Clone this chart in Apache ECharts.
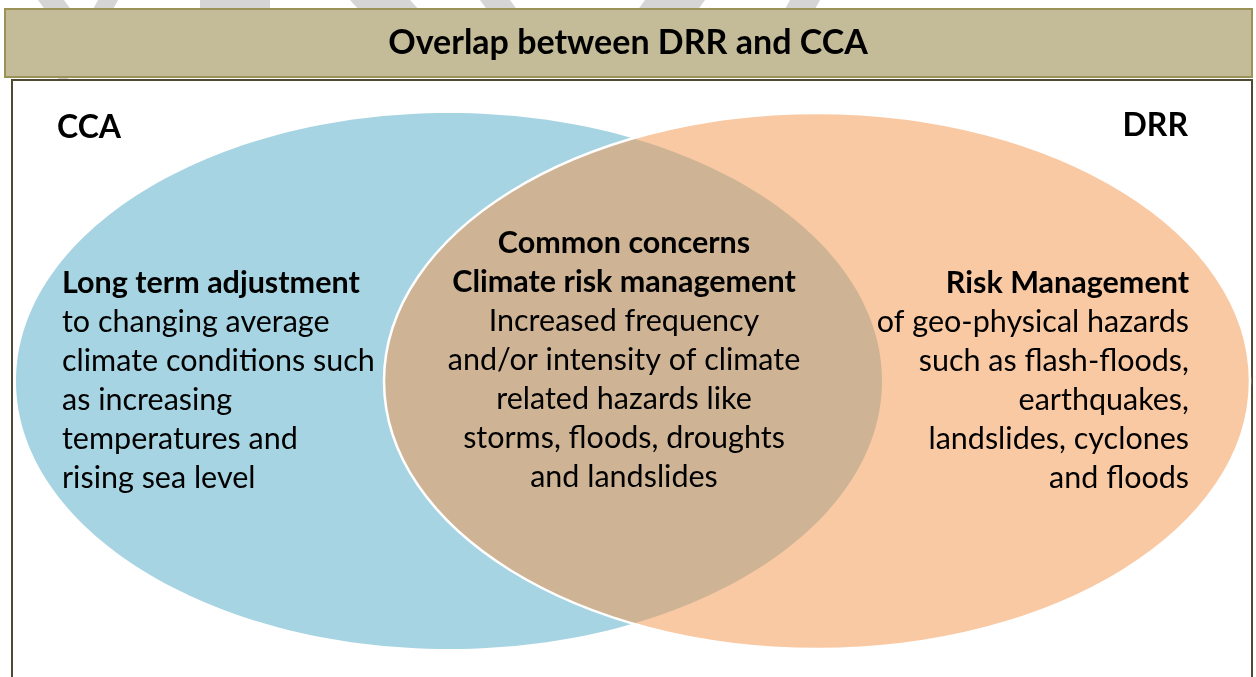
<!DOCTYPE html>
<html>
<head>
<meta charset="utf-8">
<script src="https://cdn.jsdelivr.net/npm/echarts@6/dist/echarts.min.js"></script>
<style>
  html, body { margin: 0; padding: 0; background: #fff; }
  #chart { width: 1256px; height: 677px; }
</style>
</head>
<body>
<div id="chart"></div>
<script>
// sets of the venn diagram (ellipses in page units, y grows downwards)
var setNames = ['CCA', 'DRR'];
var setCenterX = [449, 817];
var setCenterY = [381, 381];
var setRadiusX = [433, 433];
var setRadiusY = [268, 268];

var titleText = 'Overlap between DRR and CCA';

// text of each region: first lines bold, rest normal
var ccaHead = ['Long term adjustment'];
var ccaBody = ['to changing average', 'climate conditions such', 'as increasing', 'temperatures and', 'rising sea level'];
var commonHead = ['Common concerns', 'Climate risk management'];
var commonBody = ['Increased frequency', 'and/or intensity of climate', 'related hazards like', 'storms, floods, droughts', 'and landslides'];
var drrHead = ['Risk Management'];
var drrBody = ['of geo-physical hazards', 'such as flash-floods,', 'earthquakes,', 'landslides, cyclones', 'and floods'];

var FONT = 'Lato, "Noto Sans", sans-serif';
var BODY_SIZE = 30.5;
var fills = ['#a6d4e2', 'rgba(243,151,78,0.52)'];
var strokes = [null, '#ffffff'];

var chart = echarts.init(document.getElementById('chart'));

function textBlock(head, body, x, y, align) {
  var els = [];
  var lines = head.concat(body);
  for (var i = 0; i < lines.length; i++) {
    els.push({
      type: 'text',
      z: 10,
      style: {
        text: lines[i],
        x: x,
        y: y + i * 39,
        align: align,
        verticalAlign: 'middle',
        font: (i < head.length ? 'bold ' : '') + BODY_SIZE + 'px ' + FONT,
        fill: '#000'
      }
    });
  }
  return els;
}

// faint watermark pieces peeking out above the title bar
function stripe(x0, w, skew) {
  return { type: 'polygon', z: -2,
    shape: { points: [[x0, 0], [x0 + w, 0], [x0 + w + skew, 11], [x0 + skew, 11]] },
    style: { fill: '#d5d5d5' } };
}

var graphics = [
  stripe(38, 26, 8), stripe(98, 20, -6), stripe(200, 70, 0), stripe(350, 60, 10),
  stripe(480, 30, 8), stripe(645, 60, -8), stripe(790, 30, -6),
  { type: 'rect', z: -2, shape: { x: 58, y: 76, width: 10, height: 4 }, style: { fill: '#d5d5d5' } },
  // title bar
  { type: 'rect', z: -1, shape: { x: 5, y: 9, width: 1247, height: 68 },
    style: { fill: '#c4bc98', stroke: '#9a9256', lineWidth: 2 } },
  // frame
  { type: 'rect', z: -1, shape: { x: 12, y: 80, width: 1240, height: 620 },
    style: { fill: null, stroke: '#4f4a30', lineWidth: 2 } },
  { type: 'text', z: 10, style: { text: setNames[0], x: 57, y: 128, verticalAlign: 'middle',
      font: 'bold 32px ' + FONT, fill: '#000' } },
  { type: 'text', z: 10, style: { text: setNames[1], x: 1188, y: 126, align: 'right', verticalAlign: 'middle',
      font: 'bold 32px ' + FONT, fill: '#000' } }
];
graphics = graphics
  .concat(textBlock(ccaHead, ccaBody, 62, 283, 'left'))
  .concat(textBlock(commonHead, commonBody, 624, 243, 'center'))
  .concat(textBlock(drrHead, drrBody, 1189, 283, 'right'));

var option = {
  animation: false,
  backgroundColor: '#fff',
  title: {
    text: titleText,
    left: 'center',
    top: 23,
    padding: 0,
    textStyle: { fontFamily: FONT, fontWeight: 'bold', fontSize: 34, lineHeight: 40, color: '#000' }
  },
  grid: { left: 0, right: 0, top: 0, bottom: 0 },
  xAxis: { type: 'value', min: 0, max: 1256, show: false },
  yAxis: { type: 'value', min: 0, max: 677, inverse: true, show: false },
  graphic: graphics,
  series: [{
    type: 'custom',
    coordinateSystem: 'cartesian2d',
    data: setNames.map(function (n, i) {
      return [setCenterX[i], setCenterY[i], setRadiusX[i] * 2, setRadiusY[i] * 2];
    }),
    renderItem: function (params, api) {
      var c = api.coord([api.value(0), api.value(1)]);
      var s = api.size([api.value(2), api.value(3)]);
      var i = params.dataIndex;
      return {
        type: 'ellipse',
        shape: { cx: c[0], cy: c[1], rx: s[0] / 2, ry: s[1] / 2 },
        style: { fill: fills[i], stroke: strokes[i], lineWidth: strokes[i] ? 2.5 : 0 }
      };
    }
  }]
};
chart.setOption(option);
</script>
</body>
</html>
